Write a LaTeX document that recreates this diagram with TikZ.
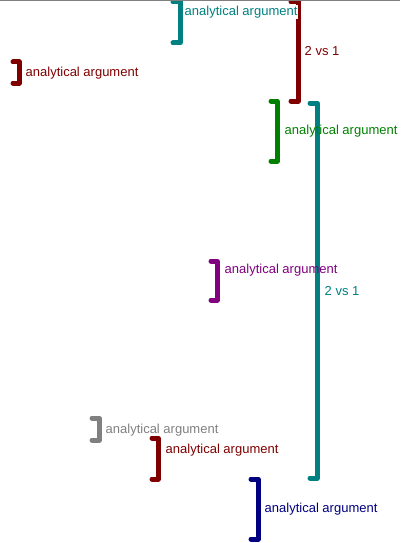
\documentclass[tikz,border=0pt]{standalone}
\usepackage{fontspec}
\setmainfont{Liberation Sans}
\definecolor{cteal}{RGB}{0,128,128}
\definecolor{cmaroon}{RGB}{128,0,0}
\definecolor{cgreen}{RGB}{0,128,0}
\definecolor{cpurple}{RGB}{128,0,128}
\definecolor{cgray}{RGB}{128,128,128}
\definecolor{cnavy}{RGB}{0,0,128}
\tikzset{
  brk/.style={line width=5pt, line cap=round, line join=round},
  lbl/.style={anchor=west, inner sep=0.5pt, font=\fontsize{13}{15}\selectfont},
}
\begin{document}
\begin{tikzpicture}[x=1pt,y=-1pt]
\useasboundingbox (0,0) rectangle (400,543);
\clip (0,0) rectangle (400,543);
% brackets
\draw[brk, cteal] (173,2) -- (180,2) -- (180,43) -- (173,43);
\draw[brk, cmaroon] (291,2) -- (298,2) -- (298,101) -- (291,101);
\draw[brk, cmaroon] (13,62) -- (19,62) -- (19,83) -- (13,83);
\draw[brk, cgreen] (271,101) -- (277,101) -- (277,161) -- (271,161);
\draw[brk, cteal] (310,103) -- (317,103) -- (317,478) -- (310,478);
\draw[brk, cpurple] (211,261) -- (217,261) -- (217,300) -- (211,300);
\draw[brk, cgray] (92,418) -- (99,418) -- (99,440) -- (92,440);
\draw[brk, cmaroon] (152,438) -- (158,438) -- (158,479) -- (152,479);
\draw[brk, cnavy] (251,479) -- (258,479) -- (258,539) -- (251,539);
% labels
\node[lbl, text=cteal, fill=white] (t1) at (184,12) {analytical argument};
\node[lbl, text=cmaroon] (t2) at (304,51) {2 vs 1};
\node[lbl, text=cmaroon] (t3) at (25,73) {analytical argument};
\node[lbl, text=cgreen] (t4) at (284,131) {analytical argument};
\node[lbl, text=cteal] (t5) at (324,291) {2 vs 1};
\node[lbl, text=cpurple] (t6) at (224,270) {analytical argument};
\node[lbl, text=cgray] (t7) at (105,430) {analytical argument};
\node[lbl, text=cmaroon] (t8) at (165,450) {analytical argument};
\node[lbl, text=cnavy] (t9) at (264,509) {analytical argument};
% top rule
\draw[cgray, line width=1pt] (0,0.5) -- (400,0.5);
\end{tikzpicture}
\end{document}
